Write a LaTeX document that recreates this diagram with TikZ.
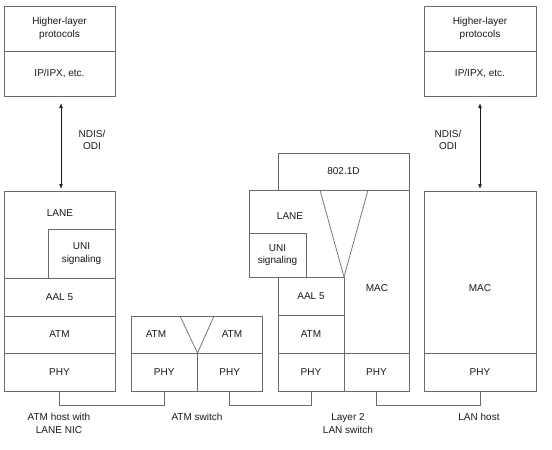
\documentclass[tikz,border=0pt]{standalone}
\usepackage{fontspec}
\setmainfont{Liberation Sans}
\usetikzlibrary{arrows.meta,calc,positioning}
\definecolor{ink}{HTML}{1A1A1A}
\definecolor{rule}{HTML}{6A6A6A}
\tikzset{
  font=\fontsize{10}{12.5}\selectfont,
  >={Latex[length=5pt,width=3.8pt]},
  layer/.style={draw=rule, line width=.7pt, fill=white, align=center,
    inner sep=0pt, outer sep=0pt, text=ink},
  wire/.style={draw=rule, line width=.7pt},
  api/.style={draw=ink, line width=.7pt, <->, shorten <=7pt, shorten >=2pt},
  caption/.style={align=center, text=ink, inner sep=0pt}
}

\begin{document}
\begin{tikzpicture}[x=1pt,y=-1pt]
  \useasboundingbox (0,0) rectangle (552,450);

  % -------------------------------------------------------------------
  % ATM host with LANE NIC.
  \node[layer, minimum width=111, minimum height=45] (hlpA) at (59.5,28.5)
    {Higher-layer\\protocols};
  \node[layer, minimum width=111, minimum height=45] (ipA) at (59.5,73.5)
    {IP/IPX, etc.};

  \node[layer, minimum width=111, minimum height=87] (laneA) at (59.5,234.5) {};
  \node[caption] (laneAtxt) at (60,213) {LANE};
  \node[layer, minimum width=67, minimum height=49] (uniA) at (81.5,253.5)
    {UNI\\signaling};
  \node[layer, minimum width=111, minimum height=38] (aalA) at (59.5,297) {AAL 5};
  \node[layer, minimum width=111, minimum height=37] (atmA) at (59.5,334.5) {ATM};
  \node[layer, minimum width=111, minimum height=38] (phyA) at (59.5,372) {PHY};

  \draw[api] ([xshift=1.5pt]ipA.south) -- ([xshift=1.5pt]laneA.north);
  \node[caption] (apiA) at (92,140) {NDIS/\\ODI};

  % -------------------------------------------------------------------
  % ATM switch.
  \node[layer, minimum width=131, minimum height=37] (atmS) at (196.5,334.5) {};
  \node[caption] (atmSLtxt) at (156,334.5) {ATM};
  \node[caption] (atmSRtxt) at (232,334.5) {ATM};
  \node[layer, minimum width=66.5, minimum height=38] (phySL) at (164.25,372) {PHY};
  \node[layer, minimum width=64.5, minimum height=38] (phySR) at (229.75,372) {PHY};
  \draw[wire] ($(atmS.north)+(-16.5,0)$) -- (phySL.north east)
    -- ($(atmS.north)+(17.5,0)$);

  % -------------------------------------------------------------------
  % Layer 2 LAN switch.
  \node[layer, minimum width=131, minimum height=37] (bridgeB) at (343.5,171.5)
    {802.1D};
  \node[layer, minimum width=57, minimum height=44] (uniB) at (277.5,255)
    {UNI\\signaling};
  \node[layer, minimum width=66, minimum height=38] (aalB) at (311,296) {AAL 5};
  \node[layer, minimum width=66, minimum height=38] (atmB) at (311,334) {ATM};
  \node[layer, minimum width=66, minimum height=38] (phyB1) at (311,372) {PHY};
  \node[layer, minimum width=65, minimum height=38] (phyB2) at (376.5,372) {PHY};
  \node[caption] (laneBtxt) at (290,216) {LANE};
  \node[caption] (macB) at (377,288) {MAC};
  \draw[wire] (uniB.north west) -- (uniB.north west |- bridgeB.south)
    -- (bridgeB.south east) -- (phyB2.north east);
  \draw[wire] ($(bridgeB.south west)+(42,0)$) -- (aalB.north east)
    -- ($(bridgeB.south east)+(-41,0)$);

  % -------------------------------------------------------------------
  % LAN host.
  \node[layer, minimum width=112, minimum height=45] (hlpB) at (480,28.5)
    {Higher-layer\\protocols};
  \node[layer, minimum width=112, minimum height=45] (ipB) at (480,73.5)
    {IP/IPX, etc.};
  \node[layer, minimum width=112, minimum height=162] (macH) at (480,272) {};
  \node[caption] (macHtxt) at (480,288) {MAC};
  \node[layer, minimum width=112, minimum height=38] (phyH) at (480,372) {PHY};

  \draw[api] (ipB.south) -- (macH.north);
  \node[caption] (apiB) at (448,140) {NDIS/\\ODI};

  % -------------------------------------------------------------------
  % Physical links.
  \draw[wire] (phyA.south) -- ++(0,14) -| (phySL.south);
  \draw[wire] (phySR.south) -- ++(0,14) -| (phyB1.south);
  \draw[wire] (phyB2.south) -- ++(0,14) -| (phyH.south);

  \node[caption] (hostAcap) at (59,423.5) {ATM host with\\LANE NIC};
  \node[caption] (switchcap) at (197,417) {ATM switch};
  \node[caption] (bridgecap) at (348,423.5) {Layer 2\\LAN switch};
  \node[caption] (hostBcap) at (479,417) {LAN host};
\end{tikzpicture}
\end{document}
